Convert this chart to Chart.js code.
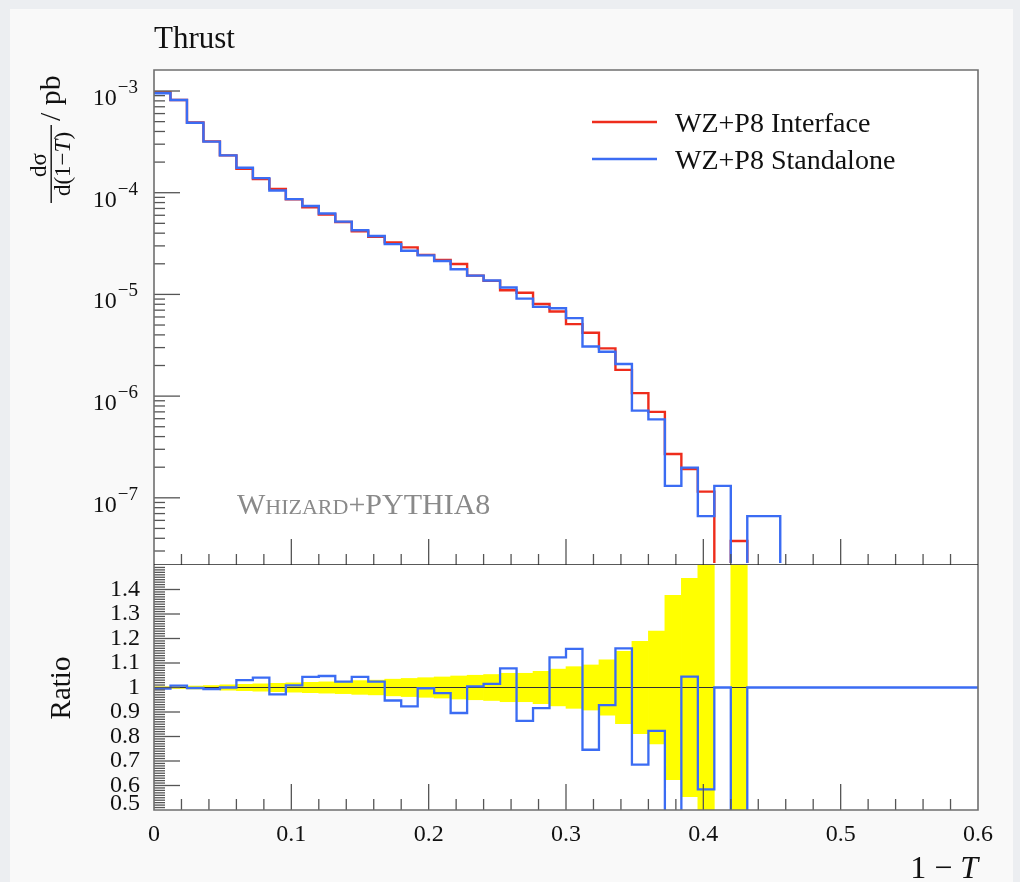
<!DOCTYPE html>
<html><head><meta charset="utf-8">
<script src="https://cdn.jsdelivr.net/npm/chart.js@4.4.1/dist/chart.umd.min.js"></script>
<style>
html,body{margin:0;padding:0;background:#eceef1;width:1020px;height:882px;overflow:hidden}
#page{position:absolute;left:10px;top:9px;width:1003px;height:873px;background:#f9f9f9}
canvas{position:absolute;left:0;top:0}
</style></head><body>
<div id="page"></div>
<canvas id="topPanel" width="1020" height="882"></canvas>
<canvas id="ratioPanel" width="1020" height="882"></canvas>
<script>
// ---------- data ----------
const binLowEdges = [0, 0.012, 0.024, 0.036, 0.048, 0.06, 0.072, 0.084, 0.096, 0.108,
  0.12, 0.132, 0.144, 0.156, 0.168, 0.18, 0.192, 0.204, 0.216, 0.228,
  0.24, 0.252, 0.264, 0.276, 0.288, 0.3, 0.312, 0.324, 0.336, 0.348,
  0.36, 0.372, 0.384, 0.396, 0.408, 0.42, 0.432, 0.444, 0.456, 0.468,
  0.48, 0.492, 0.504, 0.516, 0.528, 0.54, 0.552, 0.564, 0.576, 0.588];
const xUpperEdge = 0.6;

const interfaceValues = [9.7e-4, 8.15e-4, 4.9e-4, 3.2e-4, 2.33e-4, 1.72e-4, 1.36e-4, 1.09e-4, 8.6e-5, 7.2e-5,
  6.1e-5, 5.15e-5, 4.17e-5, 3.69e-5, 3.25e-5, 2.9e-5, 2.45e-5, 2.18e-5, 1.99e-5, 1.53e-5,
  1.36e-5, 1.1e-5, 1.04e-5, 8.05e-6, 6.8e-6, 5.1e-6, 4.2e-6, 2.95e-6, 1.81e-6, 1.07e-6,
  7.0e-7, 2.7e-7, 1.92e-7, 1.15e-7, 0, 3.76e-8, 0, 0, 0, 0,
  0, 0, 0, 0, 0, 0, 0, 0, 0, 0];

const standaloneValues = [9.5e-4, 8.15e-4, 4.88e-4, 3.18e-4, 2.33e-4, 1.76e-4, 1.39e-4, 1.05e-4, 8.65e-5, 7.4e-5,
  6.25e-5, 5.2e-5, 4.27e-5, 3.75e-5, 3.12e-5, 2.69e-5, 2.42e-5, 2.13e-5, 1.77e-5, 1.53e-5,
  1.37e-5, 1.17e-5, 9.1e-6, 7.55e-6, 7.3e-6, 5.85e-6, 3.08e-6, 2.73e-6, 2.07e-6, 7.2e-7,
  5.9e-7, 1.31e-7, 1.98e-7, 6.6e-8, 1.31e-7, 0, 6.6e-8, 6.6e-8, 0, 0,
  0, 0, 0, 0, 0, 0, 0, 0, 0, 0];

const ratioValues = [0.996, 1.008, 0.998, 0.993, 1.0, 1.03, 1.04, 0.972, 1.009, 1.043,
  1.047, 1.024, 1.043, 1.024, 0.947, 0.923, 0.997, 0.977, 0.896, 1.005,
  1.015, 1.078, 0.864, 0.916, 1.123, 1.158, 0.746, 0.928, 1.16, 0.685,
  0.823, 0.485, 1.044, 0.584, 1, 0, 1, 1, 1, 1,
  1, 1, 1, 1, 1, 1, 1, 1, 1, 1];

const bandErr = [0.003, 0.004, 0.006, 0.008, 0.011, 0.013, 0.015, 0.017, 0.019, 0.021,
  0.023, 0.025, 0.028, 0.03, 0.034, 0.037, 0.04, 0.043, 0.047, 0.05,
  0.053, 0.058, 0.058, 0.066, 0.075, 0.085, 0.092, 0.113, 0.148, 0.188,
  0.23, 0.376, 0.446, 0.75, null, 1.0, null, null, null, null,
  null, null, null, null, null, null, null, null, null, null];

const seriesLabels = ['WZ+P8 Interface', 'WZ+P8 Standalone'];
const xTickValues = [0, 0.1, 0.2, 0.3, 0.4, 0.5, 0.6];
const xTickLabels = ['0', '0.1', '0.2', '0.3', '0.4', '0.5', '0.6'];
const ratioTickValues = [0.5, 0.6, 0.7, 0.8, 0.9, 1, 1.1, 1.2, 1.3, 1.4];
const ratioTickLabels = ['0.5', '0.6', '0.7', '0.8', '0.9', '1', '1.1', '1.2', '1.3', '1.4'];
const logTickExponents = [-7, -6, -5, -4, -3];
const logTickLabelsExp = ['\u22127', '\u22126', '\u22125', '\u22124', '\u22123'];

// ---------- styling ----------
const RED = '#ee2c1c';
const BLUE = '#3b6cf3';
const FONT = '"Liberation Serif", "DejaVu Serif", serif';
const FRAME = '#6f6f6f';
const TICK = '#555555';
const LOG_AXIS_MIN = 2.185e-8;
const LOG_AXIS_MAX = 1.609e-3;
// empty bins cannot sit on a log axis: send them below the visible range (clipped)
const LOG_EMPTY_BIN = 1e-10;

function stepPoints(vals, emptyValue) {
  const pts = binLowEdges.map((x, i) => ({x: x, y: (emptyValue !== undefined && vals[i] <= 0) ? emptyValue : vals[i]}));
  const last = pts[pts.length - 1].y;
  pts.push({x: xUpperEdge, y: last});
  return pts;
}
function bandData() {
  const out = [];
  binLowEdges.forEach((x, i) => {
    if (bandErr[i] === null) return;
    const hi = i + 1 < binLowEdges.length ? binLowEdges[i + 1] : xUpperEdge;
    out.push({x: (x + hi) / 2, y: [1 - bandErr[i], 1 + bandErr[i]]});
  });
  return out;
}
function runsWidth(ctx, runs) {
  let w = 0;
  for (const r of runs) { ctx.font = r.f; w += ctx.measureText(r.t).width; }
  return w;
}
function drawRuns(ctx, runs, x, y, align) {
  const w = runsWidth(ctx, runs);
  let cx = align === 'right' ? x - w : (align === 'center' ? x - w / 2 : x);
  ctx.textAlign = 'left';
  for (const r of runs) { ctx.font = r.f; ctx.fillText(r.t, cx, y); cx += ctx.measureText(r.t).width; }
}
function line(ctx, x1, y1, x2, y2) {
  ctx.beginPath(); ctx.moveTo(x1, y1); ctx.lineTo(x2, y2); ctx.stroke();
}

const whiteArea = {
  id: 'whiteArea',
  beforeDraw(chart) {
    const a = chart.chartArea, ctx = chart.ctx;
    ctx.save(); ctx.fillStyle = '#ffffff';
    ctx.fillRect(a.left, a.top, a.right - a.left, a.bottom - a.top);
    ctx.restore();
  }
};

const topDecor = {
  id: 'topDecor',
  afterDraw(chart) {
    const ctx = chart.ctx, a = chart.chartArea;
    const xs = chart.scales.x, ys = chart.scales.y;
    ctx.save();
    ctx.strokeStyle = TICK; ctx.lineWidth = 1.3;
    for (let k = 1; k < 30; k++) {
      const px = xs.getPixelForValue(k * 0.02);
      const len = (k % 5 === 0) ? 26 : 11;
      line(ctx, px, a.bottom, px, a.bottom - len);
    }
    for (let e = -8; e <= -2; e++) {
      for (let m = 1; m <= 9; m++) {
        const v = m * Math.pow(10, e);
        if (v <= ys.min || v >= ys.max) continue;
        const py = ys.getPixelForValue(v);
        line(ctx, a.left, py, a.left + (m === 1 ? 26 : 11), py);
      }
    }
    ctx.strokeStyle = FRAME; ctx.lineWidth = 1.6;
    ctx.beginPath();
    ctx.moveTo(a.left, a.bottom); ctx.lineTo(a.left, a.top); ctx.lineTo(a.right, a.top); ctx.lineTo(a.right, a.bottom);
    ctx.stroke();
    ctx.strokeStyle = '#222'; ctx.lineWidth = 1.5;
    line(ctx, a.left, a.bottom, a.right, a.bottom);

    ctx.fillStyle = '#111'; ctx.textBaseline = 'alphabetic';
    logTickExponents.forEach((e, i) => {
      const py = ys.getPixelForValue(Math.pow(10, e));
      ctx.font = '19px ' + FONT;
      const we = ctx.measureText(logTickLabelsExp[i]).width;
      ctx.textAlign = 'left';
      ctx.fillText(logTickLabelsExp[i], 138 - we, py + 2);
      ctx.font = '24px ' + FONT;
      ctx.textAlign = 'right';
      ctx.fillText('10', 138 - we - 1, py + 14);
    });

    ctx.font = '31px ' + FONT; ctx.textAlign = 'left';
    ctx.fillText('Thrust', 154, 48);

    ctx.save();
    ctx.rotate(-Math.PI / 2);
    ctx.font = '23px ' + FONT; ctx.textAlign = 'center';
    ctx.fillText('d\u03c3', -165, 46);
    drawRuns(ctx, [{t: 'd(1\u2212', f: '23px ' + FONT}, {t: 'T', f: 'italic 23px ' + FONT}, {t: ')', f: '23px ' + FONT}], -164, 70, 'center');
    ctx.fillRect(-203, 50.5, 78, 1.4);
    ctx.font = '30px ' + FONT; ctx.textAlign = 'left';
    ctx.fillText('/ pb', -121, 60);
    ctx.restore();

    const legendRows = [{label: seriesLabels[0], color: RED, y: 122}, {label: seriesLabels[1], color: BLUE, y: 159}];
    legendRows.forEach(r => {
      ctx.strokeStyle = r.color; ctx.lineWidth = 2.5;
      line(ctx, 592, r.y, 657, r.y);
      ctx.fillStyle = '#111'; ctx.font = '28px ' + FONT; ctx.textAlign = 'left';
      ctx.fillText(r.label, 675, r.y + 9.5);
    });

    ctx.fillStyle = '#8a8a8a';
    drawRuns(ctx, [{t: 'W', f: '30px ' + FONT}, {t: 'HIZARD', f: '22px ' + FONT}, {t: '+PYTHIA8', f: '30px ' + FONT}], 237, 514, 'left');
    ctx.restore();
  }
};

const ratioDecor = {
  id: 'ratioDecor',
  afterDraw(chart) {
    const ctx = chart.ctx, a = chart.chartArea;
    const xs = chart.scales.x, ys = chart.scales.y;
    ctx.save();
    ctx.strokeStyle = TICK; ctx.lineWidth = 1.3;
    for (let k = 1; k < 30; k++) {
      const px = xs.getPixelForValue(k * 0.02);
      const len = (k % 5 === 0) ? 26 : 11;
      line(ctx, px, a.bottom, px, a.bottom - len);
    }
    for (let j = 51; j <= 149; j++) {
      const py = ys.getPixelForValue(j / 100);
      line(ctx, a.left, py, a.left + (j % 10 === 0 ? 26 : 11), py);
    }
    ctx.strokeStyle = FRAME; ctx.lineWidth = 1.6;
    ctx.beginPath();
    ctx.moveTo(a.left, a.top); ctx.lineTo(a.left, a.bottom); ctx.lineTo(a.right, a.bottom); ctx.lineTo(a.right, a.top);
    ctx.stroke();

    ctx.fillStyle = '#111';
    ctx.font = '24px ' + FONT; ctx.textBaseline = 'middle';
    ratioTickValues.forEach((v, i) => {
      const py = Math.min(ys.getPixelForValue(v), a.bottom - 6);
      ctx.textAlign = 'right';
      ctx.fillText(ratioTickLabels[i], 140, py);
    });
    xTickValues.forEach((v, i) => {
      ctx.textAlign = 'center';
      ctx.fillText(xTickLabels[i], xs.getPixelForValue(v), 835);
    });
    ctx.textBaseline = 'alphabetic';
    drawRuns(ctx, [{t: '1 \u2212 ', f: '32px ' + FONT}, {t: 'T', f: 'italic 32px ' + FONT}], 978, 878, 'right');

    ctx.save();
    ctx.rotate(-Math.PI / 2);
    ctx.font = '29px ' + FONT; ctx.textAlign = 'center';
    ctx.fillText('Ratio', -688, 70);
    ctx.restore();
    ctx.restore();
  }
};

const common = {
  responsive: false, animation: false, devicePixelRatio: 1,
  plugins: {legend: {display: false}, tooltip: {enabled: false}, title: {display: false}},
  events: []
};

new Chart(document.getElementById('topPanel'), {
  type: 'line',
  data: {
    datasets: [
      {label: seriesLabels[1], data: stepPoints(standaloneValues, LOG_EMPTY_BIN), borderColor: BLUE, borderWidth: 2.4,
        stepped: 'before', pointRadius: 0, fill: false, order: 0, clip: {left: 0, top: 0, right: 0, bottom: -2}},
      {label: seriesLabels[0], data: stepPoints(interfaceValues, LOG_EMPTY_BIN), borderColor: RED, borderWidth: 2.4,
        stepped: 'before', pointRadius: 0, fill: false, order: 1, clip: {left: 0, top: 0, right: 0, bottom: -2}}
    ]
  },
  options: Object.assign({}, common, {
    layout: {padding: {left: 154, top: 70, right: 42, bottom: 317}},
    scales: {
      x: {type: 'linear', min: 0, max: 0.6, display: false, bounds: 'data', offset: false},
      y: {type: 'logarithmic', min: LOG_AXIS_MIN, max: LOG_AXIS_MAX, display: false, bounds: 'data'}
    }
  }),
  plugins: [whiteArea, topDecor]
});

new Chart(document.getElementById('ratioPanel'), {
  type: 'line',
  data: {
    datasets: [
      {type: 'line', label: 'Standalone / Interface', data: stepPoints(ratioValues), borderColor: BLUE, borderWidth: 2.3,
        stepped: 'before', pointRadius: 0, fill: false, order: 0},
      {type: 'line', label: 'Reference', data: [{x: 0, y: 1}, {x: xUpperEdge, y: 1}], borderColor: '#333333', borderWidth: 1,
        pointRadius: 0, fill: false, order: 1},
      {type: 'bar', label: 'Interface uncertainty', data: bandData(), backgroundColor: '#ffff00', borderWidth: 0,
        barPercentage: 1, categoryPercentage: 1, order: 2, clip: 0}
    ]
  },
  options: Object.assign({}, common, {
    layout: {padding: {left: 154, top: 565, right: 42, bottom: 72}},
    scales: {
      x: {type: 'linear', min: 0, max: 0.6, display: false, bounds: 'data', offset: false, ticks: {stepSize: 0.1}},
      y: {type: 'linear', min: 0.5, max: 1.5, display: false}
    }
  }),
  plugins: [whiteArea, ratioDecor]
});
</script>
</body></html>
